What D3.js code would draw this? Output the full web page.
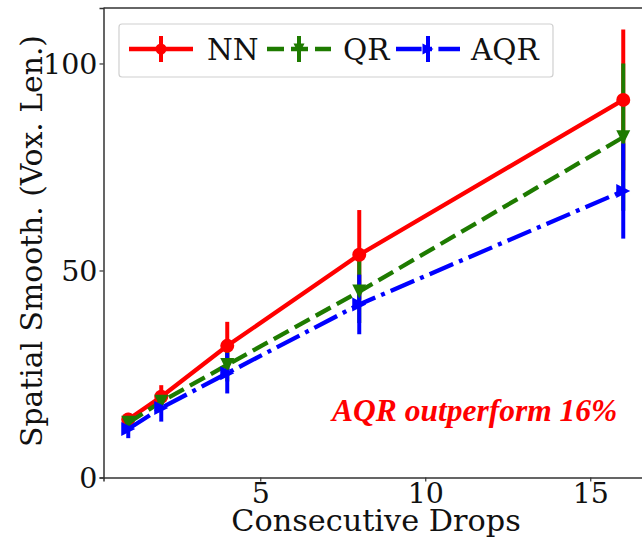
<!DOCTYPE html>
<html><head><meta charset="utf-8">
<script src="https://cdn.jsdelivr.net/npm/d3@7"></script>
<style>body{margin:0;background:#fff;}svg{display:block;}</style>
</head><body>
<script>
const drops = [1, 2, 4, 8, 16];
const nnValues = [14.0, 19.5, 31.8, 53.8, 91.2];
const nnErrors = [1.6, 2.8, 5.8, 10.8, 17.0];
const qrValues = [13.2, 18.3, 27.2, 44.9, 82.2];
const qrErrors = [1.5, 2.0, 4.0, 7.6, 17.8];
const aqrValues = [11.7, 16.8, 25.2, 41.8, 69.2];
const aqrErrors = [2.2, 3.3, 4.9, 7.2, 11.5];
const xTicks = [5, 10, 15];
const yTicks = [0, 50, 100];
const seriesNames = ["NN", "QR", "AQR"];
const annotation = "AQR outperform 16%";

const W = 642, H = 539;
const svg = d3.select("body").append("svg").attr("width", W).attr("height", H);
const x = d3.scaleLinear().domain([0.25, 16.75]).range([103.5, 648]);
const y = d3.scaleLinear().domain([0, 113.4]).range([477.5, 8]);
const serif = "'DejaVu Serif', serif";

const series = [
  {name: seriesNames[0], vals: nnValues, errs: nnErrors, color: "#ff0000", dash: null, marker: "circle"},
  {name: seriesNames[1], vals: qrValues, errs: qrErrors, color: "#1e7b00", dash: "17,7", marker: "tdown"},
  {name: seriesNames[2], vals: aqrValues, errs: aqrErrors, color: "#0000ff", dash: "25.6,6.4,4,6.4", marker: "tright"}
];

// axes
const gx = svg.append("g").attr("transform", `translate(0,${y(0)})`)
  .call(d3.axisBottom(x).tickValues(xTicks).tickSize(4).tickPadding(2).tickFormat(d3.format("d")));
const gy = svg.append("g").attr("transform", `translate(${x(0.25)},0)`)
  .call(d3.axisLeft(y).tickValues(yTicks).tickSize(4).tickPadding(2).tickFormat(d3.format("d")));
[gx, gy].forEach(g => {
  g.select(".domain").attr("stroke", "#333").attr("stroke-width", 1.5);
  g.selectAll(".tick line").attr("stroke", "#333").attr("stroke-width", 1.2);
  g.selectAll("text").attr("font-family", serif).attr("font-size", 28.5).attr("fill", "#111");
});
gy.selectAll(".tick text").attr("dy", "0.36em");
gx.selectAll(".tick text").attr("dy", "0.68em");
// top spine
svg.append("line").attr("x1", x(0.25)).attr("x2", W).attr("y1", y(113.4)).attr("y2", y(113.4))
  .attr("stroke", "#333").attr("stroke-width", 1.5);

// error bars first
series.forEach(s => {
  svg.append("g").selectAll("line").data(drops).join("line")
    .attr("x1", d => x(d)).attr("x2", d => x(d))
    .attr("y1", (d, i) => y(s.vals[i] - s.errs[i]))
    .attr("y2", (d, i) => y(s.vals[i] + s.errs[i]))
    .attr("stroke", s.color).attr("stroke-width", 4);
});

function drawMarker(g, type, cx, cy, color, size) {
  const r = size;
  if (type === "circle") {
    g.append("circle").attr("cx", cx).attr("cy", cy).attr("r", r).attr("fill", color);
  } else if (type === "tdown") {
    g.append("path").attr("d", `M${cx - r},${cy - r}L${cx + r},${cy - r}L${cx},${cy + r}Z`).attr("fill", color);
  } else {
    g.append("path").attr("d", `M${cx - r},${cy - r}L${cx + r},${cy}L${cx - r},${cy + r}Z`).attr("fill", color);
  }
}

const line = d3.line().x(d => x(d[0])).y(d => y(d[1]));
series.forEach(s => {
  const pts = drops.map((d, i) => [d, s.vals[i]]);
  const g = svg.append("g");
  g.append("path").attr("d", line(pts)).attr("fill", "none").attr("stroke", s.color)
    .attr("stroke-width", 4.3).attr("stroke-dasharray", s.dash);
  pts.forEach(p => drawMarker(g, s.marker, x(p[0]), y(p[1]), s.color, 7));
});

// labels
svg.append("text").attr("x", 376).attr("y", 531).attr("text-anchor", "middle")
  .attr("font-family", serif).attr("font-size", 30.3).attr("fill", "#111").text("Consecutive Drops");
svg.append("text").attr("transform", `translate(42,241) rotate(-90)`).attr("text-anchor", "middle")
  .attr("font-family", serif).attr("font-size", 29.8).attr("fill", "#111").text("Spatial Smooth. (Vox. Len.)");

svg.append("text").attr("x", 332).attr("y", 421).attr("font-family", "'Liberation Serif', serif")
  .attr("font-weight", "bold").attr("font-style", "italic").attr("font-size", 31.5).attr("fill", "#ff0000")
  .text(annotation);

// legend
const lg = svg.append("g");
lg.append("rect").attr("x", 119).attr("y", 24).attr("width", 434).attr("height", 53).attr("rx", 3)
  .attr("fill", "#fff").attr("stroke", "#d0d0d0").attr("stroke-width", 1.2);
const handleX = [129, 267, 396];
const textX = [207, 343, 471];
const ly = 49;
series.forEach((s, i) => {
  const x0 = handleX[i], x1 = x0 + 64, xm = (x0 + x1) / 2;
  lg.append("line").attr("x1", xm).attr("x2", xm).attr("y1", ly - 13).attr("y2", ly + 13)
    .attr("stroke", s.color).attr("stroke-width", 4);
  lg.append("line").attr("x1", x0).attr("x2", x1).attr("y1", ly).attr("y2", ly)
    .attr("stroke", s.color).attr("stroke-width", 4.3).attr("stroke-dasharray", s.dash);
  drawMarker(lg, s.marker, xm, ly, s.color, 5.5);
  lg.append("text").attr("x", textX[i]).attr("y", ly).attr("dy", "0.36em")
    .attr("font-family", serif).attr("font-size", 29.5).attr("fill", "#111").text(s.name);
});
</script>
</body></html>
